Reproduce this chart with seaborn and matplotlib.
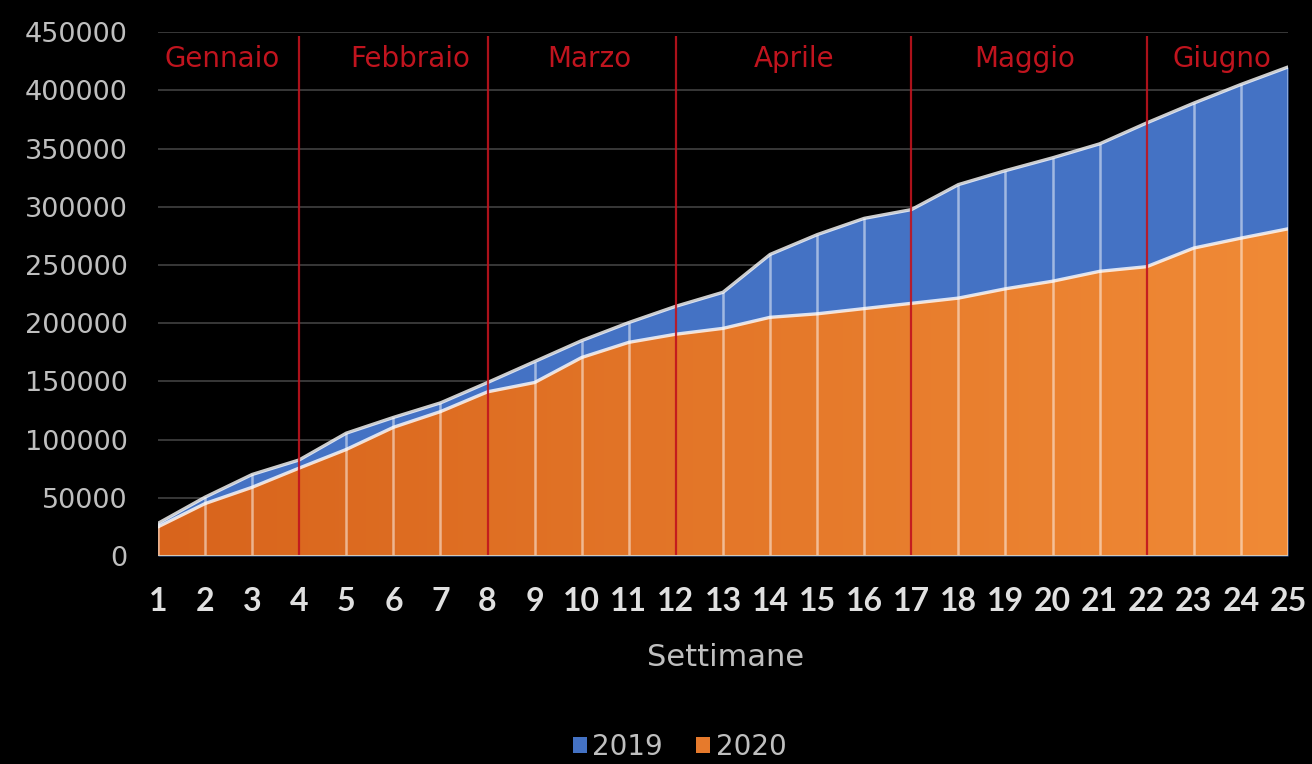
import numpy as np
import pandas as pd
import seaborn as sns
import matplotlib
matplotlib.use("Agg")
import matplotlib.pyplot as plt
from matplotlib.colors import LinearSegmentedColormap
from matplotlib.patches import Patch

# Weekly cumulative totals
weeks = list(range(1, 26))
values_2019 = [28000, 50500, 70000, 82500, 105500, 119000, 131500, 149000, 167000,
               185000, 200500, 214500, 226500, 259000, 276000, 290000, 297500,
               319000, 331000, 342000, 354000, 372000, 389000, 405000, 420000]
values_2020 = [25000, 45000, 59000, 75500, 91500, 110500, 124000, 141000, 149000,
               170500, 183500, 190500, 195500, 205000, 208000, 212500, 217000,
               221500, 229500, 236000, 244500, 248500, 264500, 273000, 281000]

# Month boundaries (week index) and month names
month_breaks = [4, 8, 12, 17, 22]
month_names = ["Gennaio", "Febbraio", "Marzo", "Aprile", "Maggio", "Giugno"]
month_label_x = [2.36, 6.35, 10.17, 14.52, 19.4, 23.6]

y_ticks = list(range(0, 450001, 50000))

df = pd.DataFrame({
    "Settimana": weeks * 2,
    "Valore": values_2019 + values_2020,
    "Anno": ["2019"] * len(weeks) + ["2020"] * len(weeks),
})

sns.set_theme(style="dark")
plt.rcParams["font.family"] = ["DejaVu Sans"]

BG = "#000000"
BLUE = "#4472C4"
RED = "#C0141E"
GRAY = "#BFBFBF"

fig = plt.figure(figsize=(13.12, 7.64), dpi=100, facecolor=BG)
ax = fig.add_axes([0.1204, 0.2723, 0.8613, 0.6857])
ax.set_facecolor(BG)

# Horizontal grid
for yv in y_ticks[1:]:
    ax.axhline(yv, color="#3c3c3c", lw=1.3, zorder=0)

# 2019 area (blue)
ax.fill_between(weeks, values_2019, 0, color=BLUE, lw=0, zorder=1)

# 2020 area with left-to-right orange gradient
poly = ax.fill_between(weeks, values_2020, 0, facecolor="none", lw=0, zorder=2)
orange_cmap = LinearSegmentedColormap.from_list("orng", ["#D8641C", "#F08A36"])
grad = np.linspace(0, 1, 256).reshape(1, -1)
im = ax.imshow(grad, extent=[1, 25, 0, 450000], aspect="auto", cmap=orange_cmap,
               origin="lower", zorder=2)
im.set_clip_path(poly.get_paths()[0], transform=ax.transData)

# Outline lines on top of each area
sns.lineplot(data=df, x="Settimana", y="Valore", hue="Anno",
             palette={"2019": "white", "2020": "white"}, lw=2.4, alpha=0.8,
             legend=False, ax=ax, zorder=4)

# Week drop lines
inner = [w for w in weeks if w not in month_breaks]
ax.vlines(inner, 0, [values_2019[w - 1] for w in inner], color="white",
          lw=1.8, alpha=0.5, zorder=3)

# Month separators and labels
ax.vlines(month_breaks, 0, 447000, color=RED, lw=1.6, alpha=0.9, zorder=5)
for name, xm in zip(month_names, month_label_x):
    ax.text(xm, 427000, name, color=RED, fontsize=20, ha="center", va="center",
            zorder=6)

# Baseline
ax.axhline(0, color="#d8c8b0", lw=2.2, zorder=6)

ax.set_xlim(1, 25)
ax.set_ylim(0, 450000)
ax.set_xticks(weeks)
ax.set_xticklabels([str(w) for w in weeks], fontsize=23, fontweight="bold",
                   color="#E0E0E0", family=["Lato", "DejaVu Sans"])
ax.set_yticks(y_ticks)
ax.set_yticklabels([str(v) for v in y_ticks], fontsize=19.5, color=GRAY)
ax.tick_params(axis="x", length=0, pad=22)
ax.tick_params(axis="y", length=0, pad=22)
for s in ax.spines.values():
    s.set_visible(False)
ax.grid(False)
ax.set_xlabel("")
ax.set_ylabel("")

fig.text(0.553, 0.14, "Settimane", color=GRAY, fontsize=22, ha="center",
         va="center")

handles = [Patch(facecolor=BLUE, edgecolor="none"),
           Patch(facecolor="#E67A2C", edgecolor="none")]
leg = fig.legend(handles, ["2019", "2020"], loc="center", ncol=2,
                 bbox_to_anchor=(0.518, 0.022), frameon=False, fontsize=20,
                 handlelength=0.5, handleheight=0.5, handletextpad=0.2,
                 columnspacing=1.2)
for t in leg.get_texts():
    t.set_color(GRAY)

fig.savefig("out.png", dpi=100, facecolor=BG)
